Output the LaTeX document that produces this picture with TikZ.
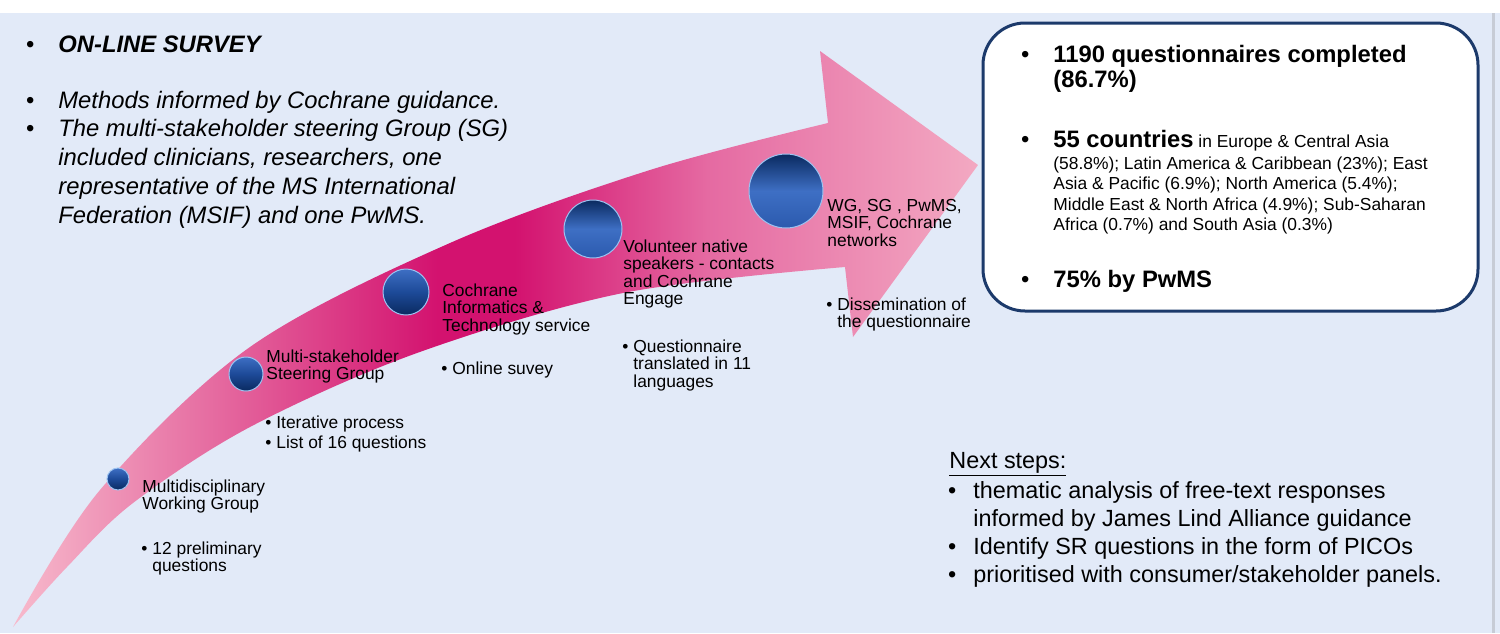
\documentclass[tikz,border=0pt]{standalone}
\usepackage{fontspec}
\setmainfont{Liberation Sans}
\usetikzlibrary{positioning}
\definecolor{bgblue}{HTML}{E2EAF8}
\definecolor{bgedge}{HTML}{C7CCD6}
\definecolor{boxnavy}{HTML}{1C3A6B}
\definecolor{pinkA}{HTML}{F7BACC}
\definecolor{pinkB}{HTML}{E66EA2}
\definecolor{pinkC}{HTML}{D3126F}
\definecolor{pinkD}{HTML}{E56AA2}
\definecolor{pinkE}{HTML}{F3A9C2}
\definecolor{ballnavy}{HTML}{0A2A60}
\definecolor{ballblue}{HTML}{3E6FC4}
\definecolor{ballmid}{HTML}{2B5AAE}
\definecolor{balldeep}{HTML}{1D4A98}
\definecolor{ballrim}{HTML}{9CC2F0}
\pgfdeclarehorizontalshading{pinkflow}{100bp}{color(0bp)=(pinkA); color(25bp)=(pinkA); color(35bp)=(pinkB); color(47bp)=(pinkC); color(51bp)=(pinkC); color(61bp)=(pinkD); color(75bp)=(pinkE); color(100bp)=(pinkE)}
\tikzstyle{balllow}=[circle,inner sep=0pt,draw=ballrim,line width=0.5pt,top color=ballblue,bottom color=ballnavy,middle color=balldeep]
\tikzstyle{ballhigh}=[circle,inner sep=0pt,draw=ballrim,line width=0.5pt,top color=ballnavy,bottom color=ballmid,middle color=ballblue]
\tikzstyle{steplabel}=[anchor=base west,inner sep=0pt,font=\fontsize{8.7}{8.6}\selectfont]
\tikzstyle{surveytext}=[anchor=base west,inner sep=0pt,font=\itshape\fontsize{11.9}{14.4}\selectfont]
\tikzstyle{result}=[anchor=base west,inner sep=0pt,font=\bfseries\fontsize{11.9}{12.5}\selectfont]
\tikzstyle{nextstep}=[anchor=base west,inner sep=0pt,font=\fontsize{11.7}{14}\selectfont]
\newcommand{\dotpt}[1]{\llap{\upshape\mdseries\textbullet\hspace{#1}}}
\newcommand{\stack}[1]{\begin{tabular}[t]{@{}l@{}}#1\end{tabular}}

\begin{document}
\begin{tikzpicture}[x=0.5pt,y=-0.5pt]
            \useasboundingbox (0,0) rectangle (1500,633);
            % BACKGROUND PART

            \fill[white] (0,0) rectangle (1500,633);
            \fill[bgblue] (0,13) rectangle (1500,633);
            \draw[bgedge,line width=1.5pt] (1493,13) -- (1493,633);

            % ARROW PART

            \shade[shading=pinkflow] plot[smooth,tension=0.55] coordinates {(13,627) (100,490) (250,347) (450,243) (650,170) (828,123)}
                -- (820,51) -- (978,165) -- (853,337) -- (845,267)
                -- plot[smooth,tension=0.55] coordinates {(845,267) (623,293) (417,353) (250,427) (133,503) (67,567) (13,627)} -- cycle;

            \node[balllow, minimum size=11pt] (wg) at (118,479) {};
            \node[balllow, minimum size=17pt] (sg) at (246,374) {};
            \node[balllow, minimum size=23pt] (cit) at (406,292) {};
            \node[ballhigh, minimum size=29pt] (vns) at (593,229) {};
            \node[ballhigh, minimum size=37pt] (net) at (786,191) {};

            % STEPS PART

            \node[steplabel] (wgtext) at (142,492) {\stack{Multidisciplinary\\Working Group}};
            \node[steplabel] (wgnote) at (152,554) {\stack{\dotpt{2.5pt}12 preliminary\\questions}};
            \node[steplabel] (sgtext) at (266,362) {\stack{Multi-stakeholder\\Steering Group}};
            \node[steplabel] (sgnote) at (276,428) {\stack{\dotpt{2.5pt}Iterative process\\[1.4pt]\dotpt{2.5pt}List of 16 questions}};
            \node[steplabel] (cittext) at (442,296) {\stack{Cochrane\\Informatics \&\\Technology service}};
            \node[steplabel] (citnote) at (452,374) {\stack{\dotpt{2.5pt}Online suvey}};
            \node[steplabel] (vnstext) at (623,252) {\stack{Volunteer native\\speakers - contacts\\and Cochrane\\Engage}};
            \node[steplabel] (vnsnote) at (633,352) {\stack{\dotpt{2.5pt}Questionnaire\\translated in 11\\languages}};
            \node[steplabel] (nettext) at (827,211) {\stack{WG, SG , PwMS,\\MSIF, Cochrane\\networks}};
            \node[steplabel] (netnote) at (837,310) {\stack{\dotpt{2.5pt}Dissemination of\\the questionnaire}};

            % SURVEY PART

            \node[surveytext] (survey) at (58,52) {\dotpt{12pt}\bfseries ON-LINE SURVEY};
            \node[surveytext] (methods) at (58,108) {\stack{\dotpt{12pt}Methods informed by Cochrane guidance.\\
                \dotpt{12pt}The multi-stakeholder steering Group (SG)\\included clinicians, researchers, one\\
                representative of the MS International\\Federation (MSIF) and one PwMS.}};

            % RESULTS PART

            \node[draw=boxnavy, line width=1.5pt, fill=white, rounded corners=21pt, inner sep=0pt,
                minimum width=247.5pt, minimum height=144pt] (resbox) at (1230.5,167) {};
            \node[result] (completed) at (1053,62) {\stack{\dotpt{12pt}1190 questionnaires completed\\(86.7\%)}};
            \node[result, font=\fontsize{8.7}{10.3}\selectfont] (countries) at (1053,147)
                {\stack{{\bfseries\fontsize{11.9}{12.5}\selectfont\dotpt{12pt}55 countries} in Europe \& Central Asia\\[0.7pt]
                (58.8\%); Latin America \& Caribbean (23\%); East\\Asia \& Pacific (6.9\%); North America (5.4\%);\\
                Middle East \& North Africa (4.9\%); Sub-Saharan\\Africa (0.7\%) and South Asia (0.3\%)}};
            \node[result] (pwms) at (1053,287) {\dotpt{12pt}75\% by PwMS};

            % NEXT STEPS PART

            \node[nextstep] (nexthead) at (949,468) {\underline{Next steps:}};
            \node[nextstep] (nextlist) at (973,498) {\stack{\dotpt{8.5pt}thematic analysis of free-text responses\\
                informed by James Lind Alliance guidance\\\dotpt{8.5pt}Identify SR questions in the form of PICOs\\
                \dotpt{8.5pt}prioritised with consumer/stakeholder panels.}};

\end{tikzpicture}
\end{document}
